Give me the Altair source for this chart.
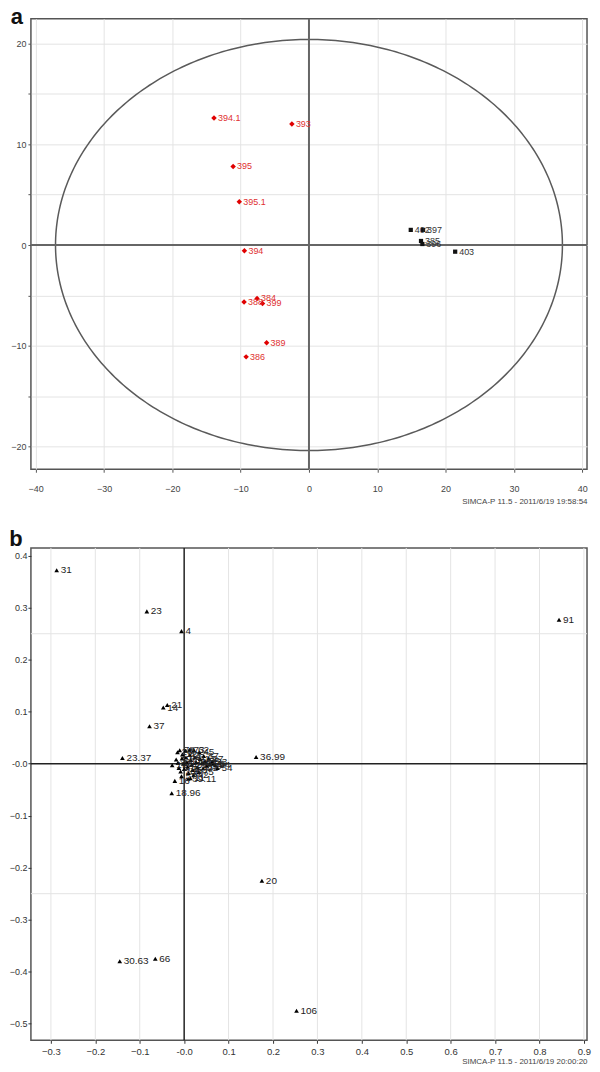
import altair as alt
import numpy as np
import pandas as pd

FONT = "Liberation Sans"

# ---------------- Panel a : score plot ----------------
a_red_x = [-13.9, -2.5, -11.1, -10.2, -9.45, -9.5, -7.6, -6.8, -6.2, -9.2]
a_red_y = [12.6, 12.0, 7.8, 4.3, -0.56, -5.65, -5.3, -5.8, -9.7, -11.1]
a_red_lab = ["394.1", "393", "395", "395.1", "394", "388", "384", "399", "389", "386"]

a_blk_x = [14.9, 16.7, 16.4, 16.6, 21.4]
a_blk_y = [1.5, 1.5, 0.4, 0.1, -0.66]
a_blk_lab = ["402", "397", "385", "396", "403"]

a_ellipse_rx = 37.1
a_ellipse_ry = 20.4

a_ticks_x = [-40, -35, -30, -25, -20, -15, -10, -5, 0, 5, 10, 15, 20, 25, 30, 35, 40]
a_ticks_y = [-20, -15, -10, -5, 0, 5, 10, 15, 20]
a_footer = "SIMCA-P 11.5 - 2011/6/19 19:58:54"

# ---------------- Panel b : loading plot ----------------
b_x = [-0.287, -0.084, -0.006, -0.038, -0.047, -0.078, -0.139, 0.162, -0.028,
       0.844, 0.175, -0.145, -0.065, 0.253]
b_y = [0.372, 0.293, 0.255, 0.113, 0.108, 0.072, 0.011, 0.013, -0.057,
       0.277, -0.225, -0.380, -0.375, -0.475]
b_lab = ["31", "23", "4", "21", "14", "37", "23.37", "36.99", "18.96",
         "91", "20", "30.63", "66", "106"]

b_cluster_x = [-0.027, -0.021, 0.009, -0.015, -0.010, -0.004, 0.003, 0.012, 0.022,
               0.034, 0.044, 0.055, 0.063, 0.070, 0.075, -0.018, -0.014, -0.012,
               -0.008, -0.005, -0.002, 0.000, 0.004, 0.006, 0.008, 0.010, 0.013,
               0.015, 0.017, 0.019, 0.021, 0.024, 0.027, 0.030, 0.033, 0.036,
               0.040, 0.043, 0.047, 0.051, 0.058, 0.065, -0.006, 0.014]
b_cluster_y = [-0.003, -0.033, -0.029, 0.022, 0.026, 0.018, 0.025, 0.027, 0.026,
               0.022, 0.015, 0.010, 0.004, -0.003, -0.008, 0.008, 0.002, -0.008,
               -0.015, 0.010, 0.000, -0.010, 0.012, 0.003, -0.006, -0.018, 0.017,
               0.007, -0.002, -0.012, -0.022, 0.012, 0.003, -0.007, -0.016, 0.009,
               0.001, -0.009, 0.005, -0.004, -0.001, 0.000, -0.024, -0.028]
b_cluster_lab = ["19", "16", "39.11", "26", "78", "12", "8", "73", "62",
                 "45", "87", "27", "33", "94", "54", "3", "48", "5",
                 "70", "9", "61", "35", "44", "17", "52", "40", "2",
                 "81", "29", "63", "42", "6", "56", "38", "75", "13",
                 "67", "22", "85", "30", "92", "1", "57", "11"]

b_ticks_x = [-0.3, -0.25, -0.2, -0.15, -0.1, -0.05, 0.0, 0.05, 0.1, 0.15, 0.2, 0.25,
             0.3, 0.35, 0.4, 0.45, 0.5, 0.55, 0.6, 0.65, 0.7, 0.75, 0.8, 0.85, 0.9]
b_ticks_y = [-0.5, -0.45, -0.4, -0.35, -0.3, -0.25, -0.2, -0.15, -0.1, -0.05, 0.0,
             0.05, 0.1, 0.15, 0.2, 0.25, 0.3, 0.35, 0.4]
b_grid_x = [-0.3, -0.2, -0.1, 0.1, 0.2, 0.3, 0.4, 0.5, 0.6, 0.7, 0.8, 0.9]
b_grid_y = [-0.25, 0.25]
b_footer = "SIMCA-P 11.5 - 2011/6/19 20:00:20"

GRID = "#e4e4e4"
W = 558

# ---------- build panel a ----------
theta = np.linspace(0, 2 * np.pi, 361)
ell = pd.DataFrame({"x": a_ellipse_rx * np.cos(theta),
                    "y": a_ellipse_ry * np.sin(theta),
                    "i": np.arange(len(theta))})
red = pd.DataFrame({"x": a_red_x, "y": a_red_y, "lab": a_red_lab})
blk = pd.DataFrame({"x": a_blk_x, "y": a_blk_y, "lab": a_blk_lab})

a_xscale = alt.Scale(domain=[-40.7, 40.7], nice=False, zero=False)
a_yscale = alt.Scale(domain=[-22.25, 22.45], nice=False, zero=False)

a_xaxis = alt.Axis(values=a_ticks_x, labelExpr="datum.value % 10 == 0 ? datum.label : ''",
                   grid=True, gridColor=GRID, domain=False, tickColor="#555", tickSize=3,
                   labelFontSize=9, labelColor="#444", labelPadding=12, labelFlush=False,
                   title=a_footer, titleFontSize=8, titleFontWeight="normal",
                   titleColor="#444", titleAnchor="end", titlePadding=4)
a_yaxis = alt.Axis(values=a_ticks_y, labelExpr="datum.value % 10 == 0 ? datum.label : ''",
                   grid=True, gridColor=GRID, domain=False, tickColor="#555", tickSize=3,
                   labelFontSize=9, labelColor="#444", labelPadding=2, labelFlush=False,
                   title=None)

a_ell = alt.Chart(ell).mark_line(color="#5a5a5a", strokeWidth=1.5).encode(
    x=alt.X("x:Q", scale=a_xscale, axis=a_xaxis),
    y=alt.Y("y:Q", scale=a_yscale, axis=a_yaxis),
    order="i:Q")
a_zx = alt.Chart().mark_rule(color="#666", strokeWidth=2).encode(x=alt.datum(0))
a_zy = alt.Chart().mark_rule(color="#666", strokeWidth=2).encode(y=alt.datum(0))
a_rp = alt.Chart(red).mark_point(shape="diamond", filled=True, size=30, color="#e00000",
                                 opacity=1).encode(x="x:Q", y="y:Q")
a_rt = alt.Chart(red).mark_text(align="left", baseline="middle", dx=4, fontSize=9,
                                color="#e03030", font=FONT).encode(x="x:Q", y="y:Q", text="lab:N")
a_bp = alt.Chart(blk).mark_square(size=18, color="#111", opacity=1).encode(x="x:Q", y="y:Q")
a_bt = alt.Chart(blk).mark_text(align="left", baseline="middle", dx=4, fontSize=9,
                                color="#333", font=FONT).encode(x="x:Q", y="y:Q", text="lab:N")

panel_a = alt.layer(a_ell, a_zx, a_zy, a_rp, a_rt, a_bp, a_bt).properties(
    width=W, height=452,
    title=alt.TitleParams("a", anchor="start", frame="bounds", fontSize=22,
                          fontWeight="bold", font=FONT, offset=-11, color="#111"))

# ---------- build panel b ----------
pts = pd.DataFrame({"x": b_x + b_cluster_x, "y": b_y + b_cluster_y,
                    "lab": b_lab + b_cluster_lab})
gx = pd.DataFrame({"x": b_grid_x})
gy = pd.DataFrame({"y": b_grid_y})

b_xscale = alt.Scale(domain=[-0.345, 0.907], nice=False, zero=False)
b_yscale = alt.Scale(domain=[-0.532, 0.415], nice=False, zero=False)

b_lab_expr = ("abs(round(datum.value*100)) % 10 == 0 ? "
              "(abs(datum.value) < 1e-9 ? '-0.0' : format(datum.value, '.1f')) : ''")
b_xaxis = alt.Axis(values=b_ticks_x, labelExpr=b_lab_expr, grid=False, domain=False,
                   tickColor="#333", tickSize=3, labelFontSize=9.5, labelColor="#333",
                   labelPadding=3, labelFlush=False,
                   title=b_footer, titleFontSize=8, titleFontWeight="normal",
                   titleColor="#444", titleAnchor="end", titlePadding=2)
b_yaxis = alt.Axis(values=b_ticks_y, labelExpr=b_lab_expr, grid=False, domain=False,
                   tickColor="#333", tickSize=3, labelFontSize=9, labelColor="#333",
                   labelPadding=1, labelFlush=False, title=None)

b_gx = alt.Chart(gx).mark_rule(color=GRID, strokeWidth=1).encode(
    x=alt.X("x:Q", scale=b_xscale, axis=b_xaxis))
b_gy = alt.Chart(gy).mark_rule(color=GRID, strokeWidth=1).encode(
    y=alt.Y("y:Q", scale=b_yscale, axis=b_yaxis))
b_zx = alt.Chart().mark_rule(color="#222", strokeWidth=1.5).encode(x=alt.datum(0))
b_zy = alt.Chart().mark_rule(color="#222", strokeWidth=1.5).encode(y=alt.datum(0))
b_p = alt.Chart(pts).mark_point(shape="triangle-up", filled=True, size=22, color="#000",
                                opacity=1).encode(x="x:Q", y="y:Q")
b_t = alt.Chart(pts).mark_text(align="left", baseline="middle", dx=4, fontSize=10,
                               color="#222", font=FONT).encode(x="x:Q", y="y:Q", text="lab:N")

panel_b = alt.layer(b_gx, b_gy, b_zx, b_zy, b_p, b_t).properties(
    width=W, height=494,
    title=alt.TitleParams("b", anchor="start", frame="bounds", fontSize=22,
                          fontWeight="bold", font=FONT, offset=-4, color="#111"))

chart = alt.vconcat(panel_a, panel_b, spacing=21).properties(
    padding={"left": 0, "top": -5, "right": 0, "bottom": 0}
).configure_view(stroke="#555", strokeWidth=1.5).configure_axis(
    labelFont=FONT, titleFont=FONT)

chart.save("out.html", embed_options={"renderer": "svg", "actions": False})
